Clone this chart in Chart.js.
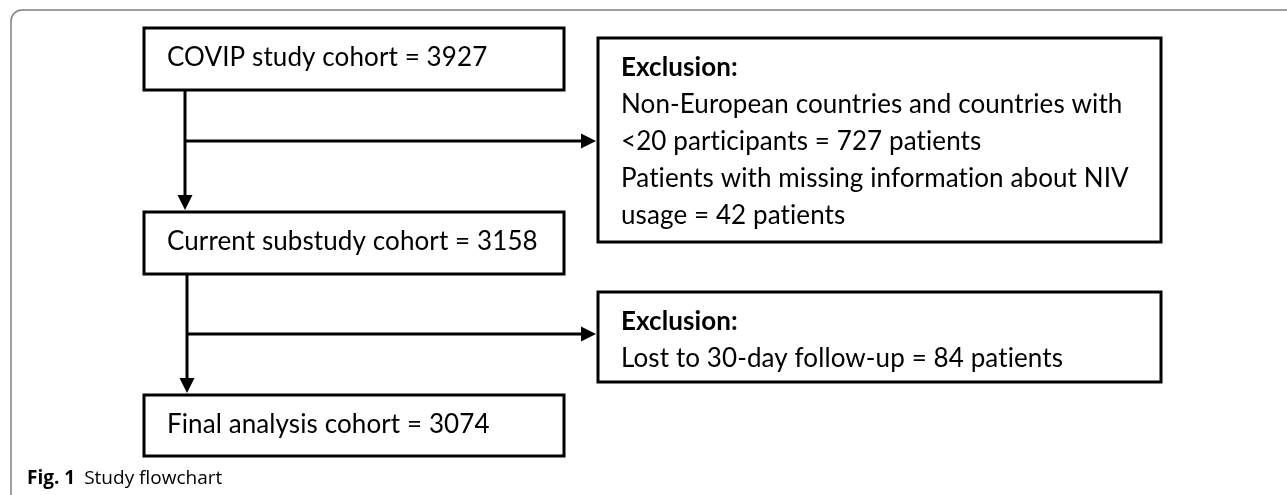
<!DOCTYPE html>
<html>
<head>
<meta charset="utf-8">
<script src="https://cdn.jsdelivr.net/npm/chart.js@4.4.1/dist/chart.umd.min.js"></script>
<style>
  html, body { margin: 0; padding: 0; background: #fff; }
  #wrap { width: 1287px; height: 495px; position: relative; }
</style>
</head>
<body>
<div id="wrap"><canvas id="flowChart"></canvas></div>
<script>
// Datos del diagrama de flujo
var stepLabels = ['COVIP study cohort', 'Current substudy cohort', 'Final analysis cohort'];
var stepCounts = [3927, 3158, 3074];
var exclusionTitle = 'Exclusion:';
var exclusion1Reasons = ['Non-European countries and countries with <20 participants', 'Patients with missing information about NIV usage'];
var exclusion1Counts = [727, 42];
var exclusion2Reasons = ['Lost to 30-day follow-up'];
var exclusion2Counts = [84];
var captionBold = 'Fig. 1';
var captionText = 'Study flowchart';

// Disposición (coordenadas de la escala, no son datos)
var layout = {
    steps: [{ x0: 144, x1: 564, y0: 28, y1: 90 },
            { x0: 144, x1: 564, y0: 212, y1: 274 },
            { x0: 144, x1: 564, y0: 395, y1: 456 }],
    excl: [{ x0: 598, x1: 1161, y0: 38, y1: 242 },
           { x0: 598, x1: 1161, y0: 292, y1: 382 }],
    trunkX: [185, 187],
    branchY: [141, 334]
};

var font = 'Lato, "Open Sans", sans-serif';

function wrapLines(ctx, text, maxW) {
    var words = text.split(' ');
    var lines = [];
    var cur = '';
    words.forEach(function (w) {
        var t = cur ? cur + ' ' + w : w;
        if (ctx.measureText(t).width > maxW && cur) {
            lines.push(cur);
            cur = w;
        } else {
            cur = t;
        }
    });
    if (cur) lines.push(cur);
    return lines;
}

var flowPlugin = {
    id: 'flow',
    afterDraw: function (chart) {
        var ctx = chart.ctx;
        var sx = chart.scales.x, sy = chart.scales.y;
        function X(v) { return sx.getPixelForValue(v); }
        function Y(v) { return sy.getPixelForValue(v); }

        ctx.save();
        // evita las ligaduras "ti" de Lato
        ctx.letterSpacing = '0.1px';

        // marco exterior gris
        ctx.strokeStyle = '#808080';
        ctx.lineWidth = 1.5;
        ctx.beginPath();
        ctx.moveTo(X(1290), Y(10));
        ctx.lineTo(X(22), Y(10));
        ctx.arcTo(X(11), Y(10), X(11), Y(21), 11);
        ctx.lineTo(X(11), Y(495));
        ctx.stroke();

        function box(b) {
            ctx.strokeStyle = '#000';
            ctx.lineWidth = 3;
            ctx.strokeRect(X(b.x0), Y(b.y0), X(b.x1) - X(b.x0), Y(b.y1) - Y(b.y0));
        }
        function arrowDown(x, y0, y1) {
            ctx.lineWidth = 3;
            ctx.beginPath();
            ctx.moveTo(X(x), Y(y0));
            ctx.lineTo(X(x), Y(y1) - 13);
            ctx.stroke();
            ctx.beginPath();
            ctx.moveTo(X(x) - 7.5, Y(y1) - 15);
            ctx.lineTo(X(x) + 7.5, Y(y1) - 15);
            ctx.lineTo(X(x), Y(y1));
            ctx.closePath();
            ctx.fill();
        }
        function arrowRight(y, x0, x1) {
            ctx.lineWidth = 3;
            ctx.beginPath();
            ctx.moveTo(X(x0), Y(y));
            ctx.lineTo(X(x1) - 13, Y(y));
            ctx.stroke();
            ctx.beginPath();
            ctx.moveTo(X(x1) - 15, Y(y) - 7.5);
            ctx.lineTo(X(x1) - 15, Y(y) + 7.5);
            ctx.lineTo(X(x1), Y(y));
            ctx.closePath();
            ctx.fill();
        }

        ctx.fillStyle = '#000';
        ctx.strokeStyle = '#000';

        // cajas principales
        ctx.font = '26px ' + font;
        ctx.textBaseline = 'alphabetic';
        ctx.textAlign = 'left';
        layout.steps.forEach(function (b, i) {
            box(b);
            ctx.fillText(stepLabels[i] + ' = ' + stepCounts[i], X(b.x0 + 23), Y(b.y0 + 38));
        });

        // cajas de exclusión
        var groups = [[exclusion1Reasons, exclusion1Counts], [exclusion2Reasons, exclusion2Counts]];
        layout.excl.forEach(function (b, i) {
            box(b);
            var lines = [];
            ctx.font = '26px ' + font;
            groups[i][0].forEach(function (r, j) {
                lines = lines.concat(wrapLines(ctx, r + ' = ' + groups[i][1][j] + ' patients', X(b.x1) - X(b.x0) - 40));
            });
            var yy = b.y0 + 38;
            ctx.font = 'bold 26px ' + font;
            ctx.fillText(exclusionTitle, X(b.x0 + 23), Y(yy));
            ctx.font = '26px ' + font;
            lines.forEach(function (l) {
                yy += 37;
                ctx.fillText(l, X(b.x0 + 23), Y(yy));
            });
        });

        // conectores
        arrowDown(layout.trunkX[0], layout.steps[0].y1, layout.steps[1].y0 - 2);
        arrowRight(layout.branchY[0], layout.trunkX[0], layout.excl[0].x0 - 2);
        arrowDown(layout.trunkX[1], layout.steps[1].y1, layout.steps[2].y0 - 2);
        arrowRight(layout.branchY[1], layout.trunkX[1], layout.excl[1].x0 - 2);

        // pie de figura
        ctx.letterSpacing = '0px';
        ctx.font = 'bold 19px "Open Sans", sans-serif';
        ctx.fillText(captionBold, X(27), Y(484));
        var w = ctx.measureText(captionBold).width;
        ctx.font = '19px "Open Sans", sans-serif';
        ctx.fillText(captionText, X(27) + w + 9, Y(484));

        ctx.restore();
    }
};

var ctx = document.getElementById('flowChart').getContext('2d');
var flowChart = new Chart(ctx, {
    type: 'scatter',
    data: { datasets: [{ data: [], pointRadius: 0 }] },
    options: {
        responsive: true,
        maintainAspectRatio: false,
        animation: false,
        layout: { padding: 0 },
        plugins: { legend: { display: false }, tooltip: { enabled: false } },
        scales: {
            x: { display: false, min: 0, max: 1287 },
            y: { display: false, min: 0, max: 495, reverse: true }
        }
    },
    plugins: [flowPlugin]
});
</script>
</body>
</html>
